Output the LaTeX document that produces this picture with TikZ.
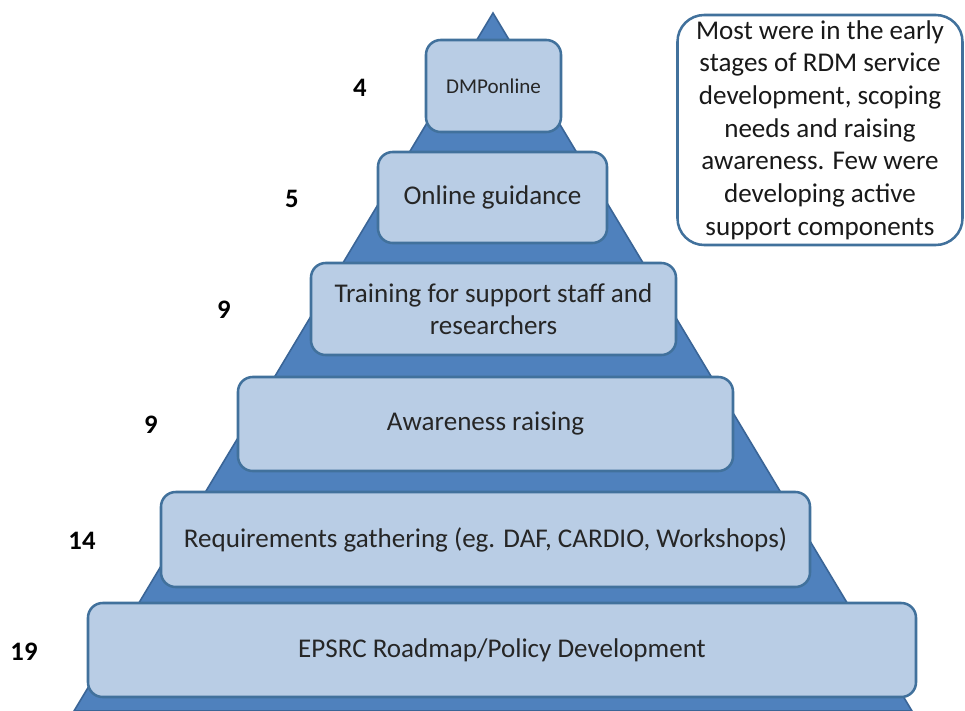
\documentclass[tikz,border=0pt]{standalone}
\usepackage{fontspec}
\setmainfont{Carlito}
\definecolor{tri}{HTML}{4F81BD}
\definecolor{triline}{HTML}{3A6597}
\definecolor{boxfill}{HTML}{B9CDE5}
\definecolor{boxline}{HTML}{41719C}
\tikzset{
  tier/.style={draw=boxline, fill=boxfill, line width=1.9pt, rounded corners=11pt, inner sep=0pt, align=center, font=\fontsize{20.3}{24}\selectfont, text=black!85},
  count/.style={font=\bfseries\fontsize{20}{22}\selectfont, text=black},
  note/.style={draw=boxline, fill=white, line width=1.9pt, rounded corners=20pt, inner sep=0pt, align=center, font=\fontsize{20.3}{24.5}\selectfont, text=black!90}
}
\begin{document}
\begin{tikzpicture}[x=0.75pt,y=-0.75pt]
\useasboundingbox (0,0) rectangle (965,711);
\begin{scope}
\clip (0,0) rectangle (965,711);
\fill[tri, draw=triline, line width=1.2pt] (493,13) -- (912,711) -- (74,711) -- cycle;
\end{scope}
\node[tier, minimum width=135*0.75pt, minimum height=92*0.75pt, font=\fontsize{15.8}{18}\selectfont] (t1) at (493.5,86) {DMPonline};
\node[tier, minimum width=229*0.75pt, minimum height=91*0.75pt] (t2) at (492.5,197.5) {Online guidance};
\node[tier, minimum width=365*0.75pt, minimum height=92*0.75pt] (t3) at (493.5,309) {Training for support staff and\\researchers};
\node[tier, minimum width=495*0.75pt, minimum height=94*0.75pt] (t4) at (485.5,424) {Awareness raising};
\node[tier, minimum width=649*0.75pt, minimum height=95*0.75pt] (t5) at (485.5,539.5) {Requirements gathering (eg. DAF, CARDIO, Workshops)};
\node[tier, minimum width=828*0.75pt, minimum height=94*0.75pt] (t6) at (502,650) {EPSRC Roadmap/Policy Development};
\node[count] (n1) at (360,88) {4};
\node[count] (n2) at (292,199) {5};
\node[count] (n3) at (224,310) {9};
\node[count] (n4) at (151,425) {9};
\node[count] (n5) at (82,541) {14};
\node[count] (n6) at (24,652) {19};
\node[note, minimum width=285*0.75pt, minimum height=230*0.75pt] (note) at (820,130) {Most were in the early\\stages of RDM service\\development, scoping\\needs and raising\\awareness. Few were\\developing active\\support components};
\end{tikzpicture}
\end{document}
